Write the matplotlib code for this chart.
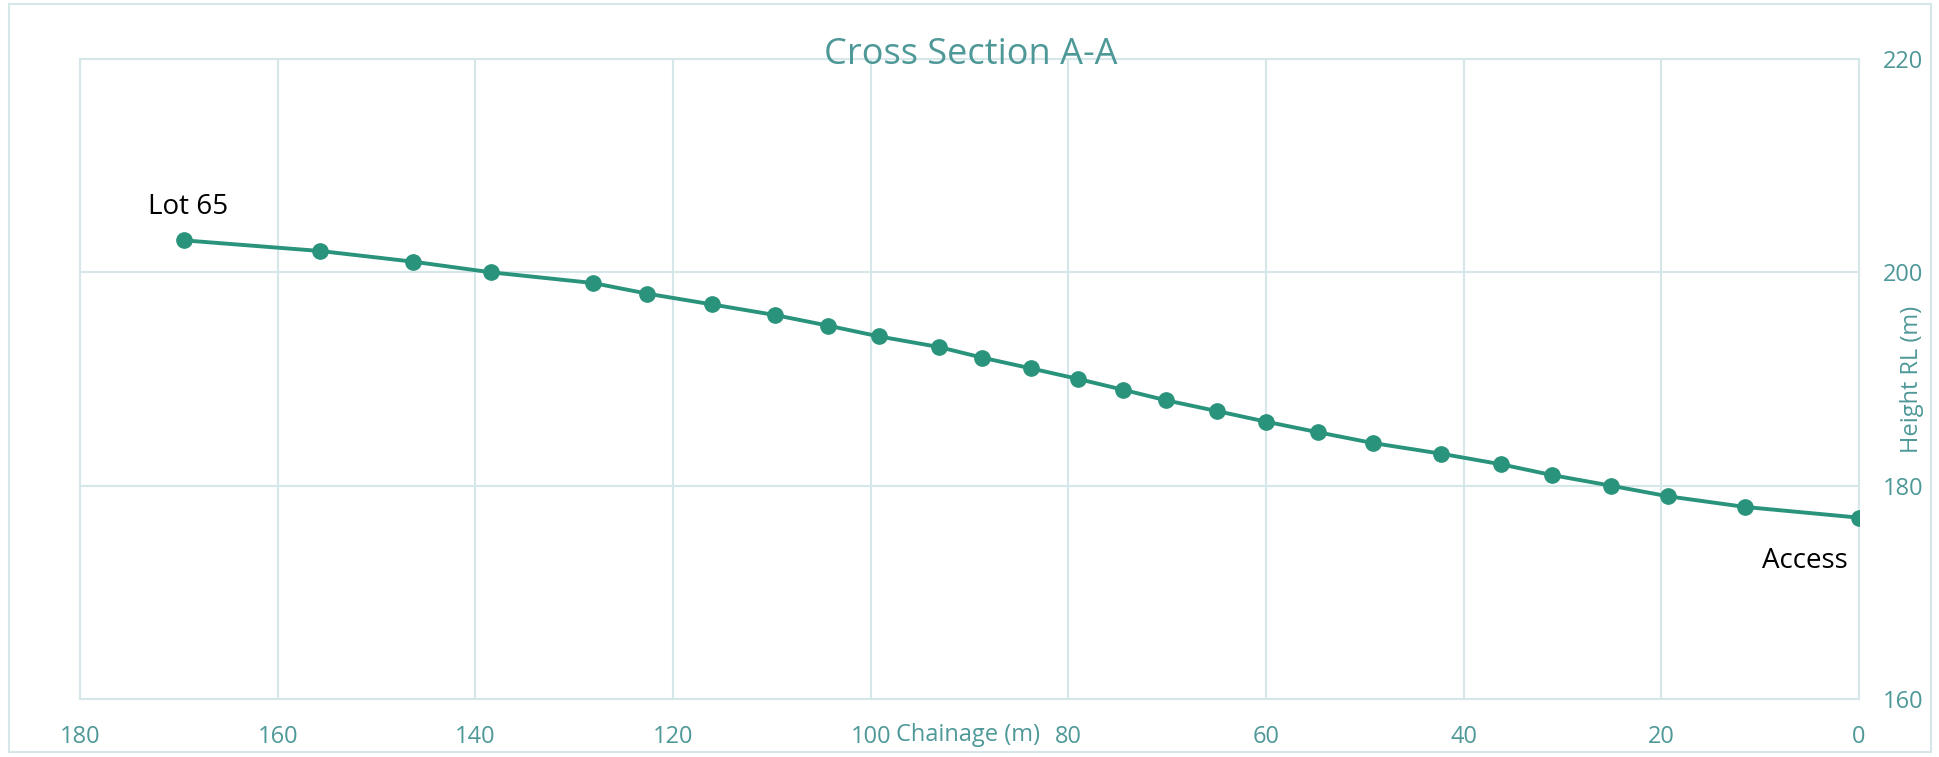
import matplotlib.pyplot as plt
from matplotlib.patches import Rectangle

plt.rcParams['font.family'] = ['Open Sans', 'DejaVu Sans']

chainage = [169.5, 155.7, 146.3, 138.4, 128.1, 122.6, 116.1, 109.7, 104.3, 99.2,
            93.1, 88.7, 83.8, 79.0, 74.5, 70.1, 65.0, 60.0, 54.7, 49.2,
            42.3, 36.2, 31.1, 25.1, 19.3, 11.5, 0.0]
height = [203, 202, 201, 200, 199, 198, 197, 196, 195, 194,
          193, 192, 191, 190, 189, 188, 187, 186, 185, 184,
          183, 182, 181, 180, 179, 178, 177]
x_ticks = [180, 160, 140, 120, 100, 80, 60, 40, 20, 0]
y_ticks = [160, 180, 200, 220]

line_col = '#2a937b'
text_col = '#4f9898'
grid_col = '#d6e7e9'

fig = plt.figure(figsize=(19.39, 7.57), dpi=100)
ax = fig.add_axes([80 / 1939, 1 - 699 / 757, 1779 / 1939, 640 / 757])

ax.plot(chainage, height, color=line_col, lw=2.8, marker='o', ms=11,
        mec=line_col, mfc=line_col, zorder=3)

ax.set_xlim(180, 0)
ax.set_ylim(160, 220)
ax.set_xticks(x_ticks)
ax.set_yticks(y_ticks)
ax.yaxis.tick_right()
ax.grid(True, color=grid_col, lw=1.5)
ax.set_axisbelow(True)
for s in ax.spines.values():
    s.set_color(grid_col)
    s.set_linewidth(1.5)
ax.tick_params(axis='x', length=0, pad=19, labelsize=17, labelcolor=text_col)
ax.tick_params(axis='y', length=0, pad=17, labelsize=17, labelcolor=text_col)

# point labels
ax.annotate('Lot 65', (chainage[0], height[0]), xytext=(3, 14),
            textcoords='offset points', ha='center', va='bottom',
            fontsize=20, color='black')
ax.annotate('Access', (chainage[-1], height[-1]), xytext=(-8, -21),
            textcoords='offset points', ha='right', va='top',
            fontsize=20, color='black')

fig.text(971 / 1939, 1 - 55 / 757, 'Cross Section A-A', ha='center', va='center',
         fontsize=26, color=text_col)
fig.text(968 / 1939, 1 - 735 / 757, 'Chainage (m)', ha='center', va='center',
         fontsize=17, color=text_col)
fig.text(1912 / 1939, 1 - 379 / 757, 'Height RL (m)', ha='center', va='center',
         rotation=90, fontsize=17, color=text_col)

# outer chart frame
fig.patches.append(Rectangle((9 / 1939, 1 - 752 / 757), 1922 / 1939, 748 / 757,
                             transform=fig.transFigure, fill=False,
                             edgecolor=grid_col, lw=1.5))

fig.savefig('out.png', dpi=100)
plt.close()
